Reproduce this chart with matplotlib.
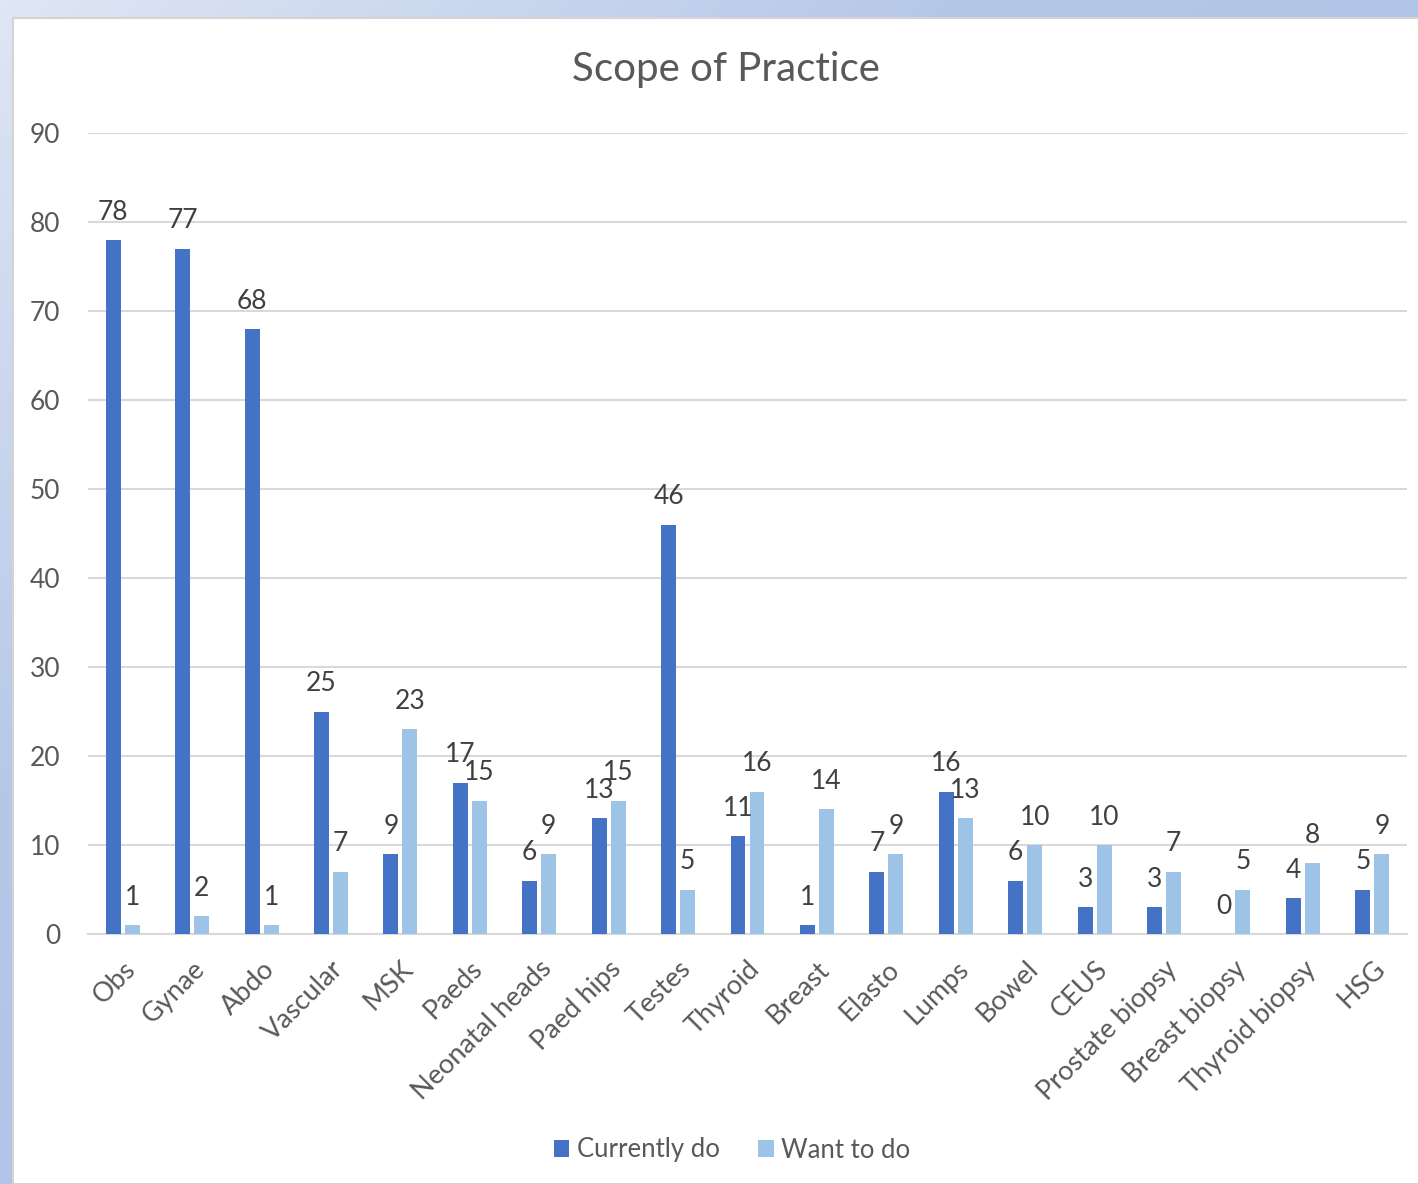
import numpy as np
import matplotlib.pyplot as plt
from matplotlib.patches import Rectangle
from matplotlib.colors import LinearSegmentedColormap

categories = ["Obs", "Gynae", "Abdo", "Vascular", "MSK", "Paeds", "Neonatal heads",
              "Paed hips", "Testes", "Thyroid", "Breast", "Elasto", "Lumps", "Bowel",
              "CEUS", "Prostate biopsy", "Breast biopsy", "Thyroid biopsy", "HSG"]
currently_do = [78, 77, 68, 25, 9, 17, 6, 13, 46, 11, 1, 7, 16, 6, 3, 3, 0, 4, 5]
want_to_do = [1, 2, 1, 7, 23, 15, 9, 15, 5, 16, 14, 9, 13, 10, 10, 7, 5, 8, 9]
yticks = [0, 10, 20, 30, 40, 50, 60, 70, 80, 90]

plt.rcParams['font.family'] = ['Lato', 'DejaVu Sans']
W, H = 1418, 1184
fig = plt.figure(figsize=(W / 100, H / 100), dpi=100)

# bluish window backdrop behind the chart panel
bg = fig.add_axes([0, 0, 1, 1], zorder=-10)
gx, gy = np.meshgrid(np.linspace(0, 1, 200), np.linspace(0, 1, 200))
grad = np.clip(0.75 * gx + 0.75 * gy, 0, 1)
cmap = LinearSegmentedColormap.from_list("bg", ["#dfe6f4", "#b6c8e8", "#adc1e6"])
bg.imshow(grad, cmap=cmap, aspect="auto", extent=[0, 1, 0, 1], origin="upper")
bg.add_patch(Rectangle((13 / W, 0), 1, 1 - 18 / H, facecolor="white",
                       edgecolor="#d4d4d4", linewidth=1.5))
bg.set_xlim(0, 1)
bg.set_ylim(0, 1)
bg.axis("off")

ax = fig.add_axes([88 / W, 250 / H, (1407 - 88) / W, (934 - 133) / H])
ax.set_facecolor("none")

x = np.arange(len(categories))
w = 0.215
off = 0.137
dark = "#4472C4"
light = "#9DC3E6"
b1 = ax.bar(x - off, currently_do, w, color=dark, label="Currently do", zorder=3)
b2 = ax.bar(x + off, want_to_do, w, color=light, label="Want to do", zorder=3)

for bars, vals in ((b1, currently_do), (b2, want_to_do)):
    for rect, v in zip(bars, vals):
        ax.annotate(str(v), (rect.get_x() + rect.get_width() / 2, v),
                    xytext=(0, 11), textcoords="offset points",
                    ha="center", va="bottom", fontsize=19, color="#404040")

ax.set_xlim(-0.5, len(categories) - 0.5)
ax.set_ylim(0, 90)
ax.set_yticks(yticks)
ax.yaxis.grid(True, color="#d9d9d9", linewidth=1.5, zorder=0)
for s in ("top", "right", "left"):
    ax.spines[s].set_visible(False)
ax.spines["bottom"].set_color("#d9d9d9")
ax.spines["bottom"].set_linewidth(1.5)
ax.tick_params(axis="y", length=0, pad=20, labelsize=19, labelcolor="#595959")
ax.tick_params(axis="x", length=0, pad=16, labelsize=19.5, labelcolor="#595959")
ax.set_xticks(x)
ax.set_xticklabels(categories, rotation=45, ha="right", rotation_mode="anchor")

fig.text(726 / W, 1 - 70 / H, "Scope of Practice", ha="center", va="center",
         fontsize=29, color="#595959")

fig.legend(handles=[b1, b2], loc="center", bbox_to_anchor=(732 / W, 1 - 1150 / H),
           ncol=2, frameon=False, fontsize=18.5, labelcolor="#595959",
           handlelength=0.6, handleheight=0.6, handletextpad=0.3, columnspacing=1.5)

fig.savefig("out.png", dpi=100)
